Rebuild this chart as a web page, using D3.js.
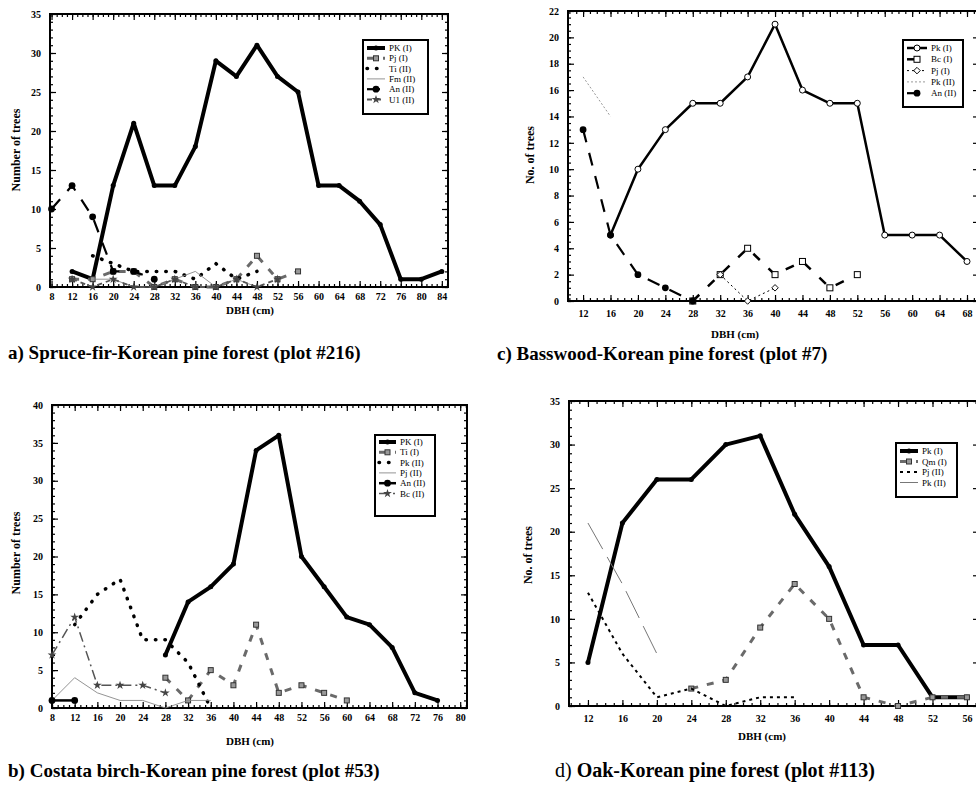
<!DOCTYPE html>
<html>
<head>
<meta charset="utf-8">
<script src="https://cdn.jsdelivr.net/npm/d3@7"></script>
<style>
body { margin: 0; background: #fff; }
svg { display: block; font-family: "Liberation Serif", "DejaVu Serif", serif; }
</style>
</head>
<body>
<svg id="chart" width="976" height="797"></svg>
<script>
// ---- datos: [DBH (cm), numero de arboles] ----

// a) Spruce-fir-Korean pine forest (plot #216)
var aPK1 = [[12,2],[16,1],[20,13],[24,21],[28,13],[32,13],[36,18],[40,29],[44,27],[48,31],[52,27],[56,25],[60,13],[64,13],[68,11],[72,8],[76,1],[80,1],[84,2]];
var aPj1 = [[12,1],[16,1],[20,2],[24,2],[28,0],[32,1],[36,0],[40,0],[44,1],[48,4],[52,1],[56,2]];
var aTi2 = [[16,4],[20,3],[24,2],[28,2],[32,2],[36,1],[40,3],[44,1],[48,2]];
var aFm2 = [[16,1],[20,1],[24,0],[28,0],[32,1],[36,2],[40,0],[44,1],[48,0]];
var aAn2 = [[8,10],[12,13],[16,9],[20,2],[24,2],[28,1]];
var aU12 = [[12,1],[16,0],[20,1],[24,0],[28,0],[32,1],[36,0],[40,0],[44,1],[48,0],[52,1]];
var aXTicks = d3.range(8, 85, 4);
var aYTicks = d3.range(0, 36, 5);

// c) Basswood-Korean pine forest (plot #7)
var cPk1 = [[16,5],[20,10],[24,13],[28,15],[32,15],[36,17],[40,21],[44,16],[48,15],[52,15],[56,5],[60,5],[64,5],[68,3]];
var cBc1 = [[28,0],[32,2],[36,4],[40,2],[44,3],[48,1],[52,2]];
var cPj1 = [[32,2],[36,0],[40,1]];
var cPk2 = [[12,17],[16,14]];
var cAn2 = [[12,13],[16,5],[20,2],[24,1],[28,0]];
var cXTicks = d3.range(12, 69, 4);
var cYTicks = d3.range(0, 23, 2);

// b) Costata birch-Korean pine forest (plot #53)
var bPK1 = [[28,7],[32,14],[36,16],[40,19],[44,34],[48,36],[52,20],[56,16],[60,12],[64,11],[68,8],[72,2],[76,1]];
var bTi1 = [[28,4],[32,1],[36,5],[40,3],[44,11],[48,2],[52,3],[56,2],[60,1]];
var bPk2 = [[12,11],[16,15],[20,17],[24,9],[28,9],[32,6],[36,0]];
var bPj2 = [[8,1],[12,4],[16,2],[20,1],[24,1],[28,0],[32,1],[36,1]];
var bAn2 = [[8,1],[12,1]];
var bBc2 = [[8,7],[12,12],[16,3],[20,3],[24,3],[28,2]];
var bXTicks = d3.range(8, 81, 4);
var bYTicks = d3.range(0, 41, 5);

// d) Oak-Korean pine forest (plot #113)
var dPk1 = [[12,5],[16,21],[20,26],[24,26],[28,30],[32,31],[36,22],[40,16],[44,7],[48,7],[52,1],[56,1]];
var dQm1 = [[24,2],[28,3],[32,9],[36,14],[40,10],[44,1],[48,0],[52,1],[56,1]];
var dPj2 = [[12,13],[16,6],[20,1],[24,2],[28,0],[32,1],[36,1]];
var dPk2 = [[12,21],[16,14],[20,6]];
var dXTicks = d3.range(12, 57, 4);
var dYTicks = d3.range(0, 36, 5);

var svg = d3.select("#chart");

// Estilos de linea
var st = {
  thick:   {stroke: "#000", width: 4},
  medium:  {stroke: "#000", width: 2.5},
  solid2:  {stroke: "#000", width: 2.5},
  greyDash:{stroke: "#6a6a6a", width: 3, dash: "7,9"},
  dots:    {stroke: "#000", width: 3.5, dash: "0.5,9", cap: "round"},
  thin:    {stroke: "#888", width: 0.9},
  thinDot: {stroke: "#999", width: 1, dash: "2,2"},
  dotBlack:{stroke: "#000", width: 1, dash: "2,3"},
  longDash:{stroke: "#000", width: 2.2, dash: "13,11"},
  dashC:   {stroke: "#000", width: 2.5, dash: "9,12"},
  starDash:{stroke: "#555", width: 1.8, dash: "5,4"},
  dashDot: {stroke: "#555", width: 1.5, dash: "10,4,2,4"},
  dotPj:   {stroke: "#000", width: 2, dash: "3,4"},
  longThin:{stroke: "#777", width: 1, dash: "30,9"}
};

function drawMarker(g, type, cx, cy) {
  if (!type) return;
  if (type === "dot") {
    g.append("circle").attr("cx", cx).attr("cy", cy).attr("r", 2.5).attr("fill", "#000");
  } else if (type === "bigdot") {
    g.append("circle").attr("cx", cx).attr("cy", cy).attr("r", 3.4).attr("fill", "#000");
  } else if (type === "ocircle") {
    g.append("circle").attr("cx", cx).attr("cy", cy).attr("r", 3).attr("fill", "#fff").attr("stroke", "#000").attr("stroke-width", 1);
  } else if (type === "osquare") {
    g.append("rect").attr("x", cx - 3).attr("y", cy - 3).attr("width", 6).attr("height", 6)
      .attr("fill", "#fff").attr("stroke", "#000").attr("stroke-width", 1);
  } else if (type === "odiamond") {
    g.append("path").attr("transform", "translate(" + cx + "," + cy + ") rotate(45)")
      .attr("d", "M-2.3,-2.3H2.3V2.3H-2.3Z").attr("fill", "#fff").attr("stroke", "#000").attr("stroke-width", 0.9);
  } else if (type === "gsquare") {
    g.append("rect").attr("x", cx - 2.5).attr("y", cy - 2.5).attr("width", 5).attr("height", 5)
      .attr("fill", "#999").attr("stroke", "#333").attr("stroke-width", 1);
  } else if (type === "star") {
    g.append("path").attr("transform", "translate(" + cx + "," + cy + ")")
      .attr("d", d3.symbol(d3.symbolStar, 24)()).attr("fill", "#444");
  }
}

function styleLine(sel, s) {
  sel.attr("fill", "none")
    .attr("stroke", s.stroke)
    .attr("stroke-width", s.width)
    .attr("stroke-linecap", s.cap || "butt")
    .attr("stroke-linejoin", "round");
  if (s.dash) sel.attr("stroke-dasharray", s.dash);
}

function drawPanel(p) {
  var g = svg.append("g");
  var x = d3.scaleLinear().domain(p.xDomain).range([p.left, p.right]);
  var y = d3.scaleLinear().domain(p.yDomain).range([p.bottom, p.top]);

  var xMinor = d3.range(Math.ceil(p.xDomain[0]), p.xDomain[1], 1);
  var yMinor = d3.range(p.yDomain[0], p.yDomain[1], p.yMinorStep);

  // ticks menores (hacia dentro, en los cuatro lados)
  var axisStyle = function(sel) {
    sel.select(".domain").remove();
    sel.selectAll(".tick line").attr("stroke", "#000").attr("stroke-width", 1.2);
  };
  g.append("g").attr("transform", "translate(0," + p.bottom + ")")
    .call(d3.axisBottom(x).tickValues(xMinor).tickSize(-3).tickFormat("")).call(axisStyle);
  g.append("g").attr("transform", "translate(0," + p.top + ")")
    .call(d3.axisTop(x).tickValues(xMinor).tickSize(-3).tickFormat("")).call(axisStyle);
  g.append("g").attr("transform", "translate(" + p.left + ",0)")
    .call(d3.axisLeft(y).tickValues(yMinor).tickSize(-3).tickFormat("")).call(axisStyle);
  g.append("g").attr("transform", "translate(" + p.right + ",0)")
    .call(d3.axisRight(y).tickValues(yMinor).tickSize(-3).tickFormat("")).call(axisStyle);

  // ticks mayores con etiquetas
  var xa = g.append("g").attr("transform", "translate(0," + p.bottom + ")")
    .call(d3.axisBottom(x).tickValues(p.xTicks).tickSize(-6).tickPadding(p.xPad));
  xa.call(axisStyle);
  xa.selectAll("text").attr("font-size", p.tickFont).attr("font-weight", "bold")
    .attr("font-family", "Liberation Serif, serif").attr("fill", "#000");
  var ya = g.append("g").attr("transform", "translate(" + p.left + ",0)")
    .call(d3.axisLeft(y).tickValues(p.yTicks).tickSize(-6).tickPadding(p.yPad));
  ya.call(axisStyle);
  ya.selectAll("text").attr("font-size", p.tickFont).attr("font-weight", "bold")
    .attr("font-family", "Liberation Serif, serif").attr("fill", "#000");
  g.append("g").attr("transform", "translate(" + p.right + ",0)")
    .call(d3.axisRight(y).tickValues(p.yTicks).tickSize(-6).tickFormat("")).call(axisStyle);
  g.append("g").attr("transform", "translate(0," + p.top + ")")
    .call(d3.axisTop(x).tickValues(p.xTicks).tickSize(-6).tickFormat("")).call(axisStyle);

  // marco
  g.append("rect").attr("x", p.left).attr("y", p.top)
    .attr("width", p.right - p.left).attr("height", p.bottom - p.top)
    .attr("fill", "none").attr("stroke", "#000").attr("stroke-width", 2);

  // series
  var line = d3.line().x(function(d) { return x(d[0]); }).y(function(d) { return y(d[1]); });
  p.series.forEach(function(s) {
    g.append("path").datum(s.data).attr("d", line).call(styleLine, st[s.style]);
    s.data.forEach(function(d) { drawMarker(g, s.marker, x(d[0]), y(d[1])); });
  });

  // leyenda
  var L = p.legend;
  g.append("rect").attr("x", L.x).attr("y", L.y).attr("width", L.w).attr("height", L.h)
    .attr("fill", "#fff").attr("stroke", "#000").attr("stroke-width", 2);
  p.series.forEach(function(s, i) {
    var ry = L.y + L.first + i * L.step;
    var ln = g.append("line").attr("x1", L.x + 4).attr("x2", L.x + 4 + L.sample)
      .attr("y1", ry).attr("y2", ry);
    styleLine(ln, st[s.style]);
    drawMarker(g, s.marker, L.x + 4 + L.sample / 2, ry);
    g.append("text").attr("x", L.x + 8 + L.sample).attr("y", ry + 3)
      .attr("font-size", 9).attr("fill", "#000").text(s.name);
  });

  // titulos de ejes
  g.append("text").attr("x", p.xTitle[0]).attr("y", p.xTitle[1])
    .attr("text-anchor", "middle").attr("font-size", 11).attr("font-weight", "bold").text("DBH (cm)");
  g.append("text")
    .attr("transform", "translate(" + p.yTitle[0] + "," + p.yTitle[1] + ") rotate(-90)")
    .attr("text-anchor", "middle").attr("font-size", 12).attr("font-weight", "bold").text(p.yLabel);

  // pie de figura
  var cap = g.append("text").attr("x", p.caption[0]).attr("y", p.caption[1])
    .attr("font-size", p.capSize).attr("font-weight", "bold");
  cap.append("tspan").attr("font-weight", p.capLetterBold ? "bold" : "normal").text(p.capLetter + " ");
  cap.append("tspan").text(p.capText);
}

drawPanel({
  left: 50, right: 448, top: 14, bottom: 287,
  xDomain: [7.7, 85.2], yDomain: [0, 35], yMinorStep: 1,
  xTicks: aXTicks, yTicks: aYTicks, tickFont: 10, xPad: 6, yPad: 9,
  series: [
    {name: "PK (I)", data: aPK1, style: "thick", marker: "dot"},
    {name: "Pj (I)", data: aPj1, style: "greyDash", marker: "gsquare"},
    {name: "Ti (II)", data: aTi2, style: "dots"},
    {name: "Fm (II)", data: aFm2, style: "thin"},
    {name: "An (II)", data: aAn2, style: "longDash", marker: "bigdot"},
    {name: "U1 (II)", data: aU12, style: "starDash", marker: "star"}
  ],
  legend: {x: 363, y: 40, w: 65, h: 74, first: 8, step: 10.3, sample: 18},
  xTitle: [250, 314], yTitle: [20, 150], yLabel: "Number of trees",
  caption: [8, 359], capSize: 19, capLetter: "a)", capLetterBold: true, capText: "Spruce-fir-Korean pine forest (plot #216)"
});

drawPanel({
  left: 568, right: 979, top: 11, bottom: 301,
  xDomain: [9.8, 69.75], yDomain: [0, 22], yMinorStep: 0.5,
  xTicks: cXTicks, yTicks: cYTicks, tickFont: 10, xPad: 9, yPad: 9,
  series: [
    {name: "Pk (I)", data: cPk1, style: "medium", marker: "ocircle"},
    {name: "Bc (I)", data: cBc1, style: "dashC", marker: "osquare"},
    {name: "Pj (I)", data: cPj1, style: "dotBlack", marker: "odiamond"},
    {name: "Pk (II)", data: cPk2, style: "thinDot"},
    {name: "An (II)", data: cAn2, style: "longDash", marker: "bigdot"}
  ],
  legend: {x: 903, y: 40, w: 60, h: 67, first: 8, step: 11.3, sample: 20},
  xTitle: [735, 338], yTitle: [534, 155], yLabel: "No. of trees",
  caption: [497, 360], capSize: 19, capLetter: "c)", capLetterBold: true, capText: "Basswood-Korean pine forest (plot #7)"
});

drawPanel({
  left: 52, right: 467, top: 405, bottom: 708,
  xDomain: [8, 81.2], yDomain: [0, 40], yMinorStep: 1,
  xTicks: bXTicks, yTicks: bYTicks, tickFont: 10, xPad: 6, yPad: 9,
  series: [
    {name: "PK (I)", data: bPK1, style: "thick", marker: "dot"},
    {name: "Ti (I)", data: bTi1, style: "greyDash", marker: "gsquare"},
    {name: "Pk (II)", data: bPk2, style: "dots"},
    {name: "Pj (II)", data: bPj2, style: "thin"},
    {name: "An (II)", data: bAn2, style: "solid2", marker: "bigdot"},
    {name: "Bc (II)", data: bBc2, style: "dashDot", marker: "star"}
  ],
  legend: {x: 375, y: 435, w: 60, h: 81, first: 7, step: 10.3, sample: 17},
  xTitle: [250, 745], yTitle: [20, 553], yLabel: "Number of trees",
  caption: [8, 777], capSize: 19, capLetter: "b)", capLetterBold: true, capText: "Costata birch-Korean pine forest (plot #53)"
});

drawPanel({
  left: 569, right: 979, top: 401, bottom: 706,
  xDomain: [9.8, 57.4], yDomain: [0, 35], yMinorStep: 1,
  xTicks: dXTicks, yTicks: dYTicks, tickFont: 10, xPad: 9, yPad: 9,
  series: [
    {name: "Pk (I)", data: dPk1, style: "thick", marker: "dot"},
    {name: "Qm (I)", data: dQm1, style: "greyDash", marker: "gsquare"},
    {name: "Pj (II)", data: dPj2, style: "dotPj"},
    {name: "Pk (II)", data: dPk2, style: "longThin"}
  ],
  legend: {x: 896, y: 443, w: 61, h: 54, first: 8, step: 10.5, sample: 18},
  xTitle: [762, 740], yTitle: [532, 555], yLabel: "No. of trees",
  caption: [555, 777], capSize: 20, capLetter: "d)", capLetterBold: false, capText: "Oak-Korean pine forest (plot #113)"
});
</script>
</body>
</html>
